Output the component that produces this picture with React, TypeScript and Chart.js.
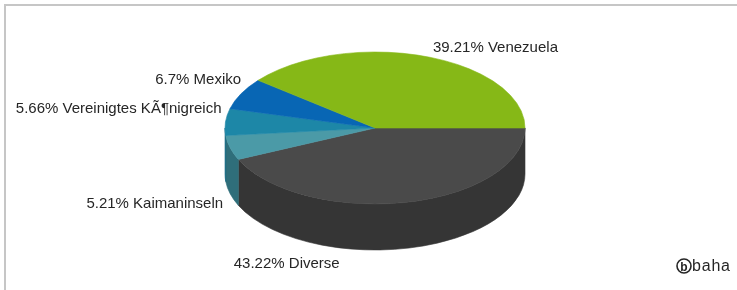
import React, { useEffect, useRef } from "react";
import { Chart, registerables } from "chart.js";

Chart.register(...registerables);

// Data, in the order the slices are drawn (clockwise from 3 o'clock)
const categories = ["Diverse", "Kaimaninseln", "Vereinigtes KÃ¶nigreich", "Mexiko", "Venezuela"];
const shares = [43.22, 5.21, 5.66, 6.7, 39.21];
const topColors = ["#4a4a4a", "#4b9aa7", "#1d87a7", "#0866b4", "#86b817"];
const sideColors = ["#353535", "#2f6e7a", "#176a83", "#054e8c", "#668f10"];

const TILT = 76 / 150;
const DEPTH = 46 / 150;
// label nudges relative to computed anchor: [dx, dy, align]
const LABEL_NUDGE: [number, number, CanvasTextAlign][] = [
  [-120, 20, "center"],
  [-7, 14, "right"],
  [-4, -9, "right"],
  [0, -10, "right"],
  [8, -4, "left"],
];

const pie3d = {
  id: "pie3d",
  beforeDraw(chart: any) {
    const ctx = chart.ctx as CanvasRenderingContext2D;
    ctx.save();
    ctx.fillStyle = "#ffffff";
    ctx.fillRect(0, 0, chart.width, chart.height);
    ctx.strokeStyle = "#c6c6c6";
    ctx.lineWidth = 2;
    ctx.beginPath();
    ctx.moveTo(5, chart.height);
    ctx.lineTo(5, 5);
    ctx.lineTo(chart.width, 5);
    ctx.stroke();
    ctx.restore();
  },
  beforeDatasetsDraw(chart: any) {
    const ctx = chart.ctx as CanvasRenderingContext2D;
    const meta = chart.getDatasetMeta(0);
    const arcs = meta.data;
    ctx.save();
    // side walls (front half only)
    arcs.forEach((arc: any, i: number) => {
      const { x, y, startAngle, endAngle, outerRadius } = arc.getProps(
        ["x", "y", "startAngle", "endAngle", "outerRadius"],
        true
      );
      const rx = outerRadius;
      const ry = outerRadius * TILT;
      const h = outerRadius * DEPTH;
      const ranges: [number, number][] = [
        [0, Math.PI],
        [2 * Math.PI, 3 * Math.PI],
      ];
      ranges.forEach(([a, b]) => {
        const s = Math.max(startAngle, a);
        const e = Math.min(endAngle, b);
        if (e <= s) return;
        ctx.beginPath();
        ctx.ellipse(x, y, rx, ry, 0, s, e, false);
        ctx.ellipse(x, y + h, rx, ry, 0, e, s, true);
        ctx.closePath();
        ctx.fillStyle = sideColors[i];
        ctx.fill();
        ctx.strokeStyle = sideColors[i];
        ctx.lineWidth = 0.6;
        ctx.stroke();
      });
    });
    // top faces
    arcs.forEach((arc: any, i: number) => {
      const { x, y, startAngle, endAngle, outerRadius } = arc.getProps(
        ["x", "y", "startAngle", "endAngle", "outerRadius"],
        true
      );
      const rx = outerRadius;
      const ry = outerRadius * TILT;
      ctx.beginPath();
      ctx.moveTo(x, y);
      ctx.ellipse(x, y, rx, ry, 0, startAngle, endAngle, false);
      ctx.closePath();
      ctx.fillStyle = topColors[i];
      ctx.fill();
      ctx.strokeStyle = topColors[i];
      ctx.lineWidth = 0.6;
      ctx.stroke();
    });
    ctx.restore();
    return false;
  },
  afterDraw(chart: any) {
    const ctx = chart.ctx as CanvasRenderingContext2D;
    const meta = chart.getDatasetMeta(0);
    ctx.save();
    ctx.font = "15px 'Liberation Sans', Arial, sans-serif";
    ctx.fillStyle = "#262626";
    ctx.textBaseline = "alphabetic";
    meta.data.forEach((arc: any, i: number) => {
      const { x, y, startAngle, endAngle, outerRadius } = arc.getProps(
        ["x", "y", "startAngle", "endAngle", "outerRadius"],
        true
      );
      const m = (startAngle + endAngle) / 2;
      const rx = outerRadius;
      const ry = outerRadius * TILT;
      let ax = x + rx * Math.cos(m);
      let ay = y + ry * Math.sin(m);
      if (Math.sin(m) > 0) ay += outerRadius * DEPTH;
      const [dx, dy, align] = LABEL_NUDGE[i];
      ctx.textAlign = align;
      ctx.fillText(`${shares[i]}% ${categories[i]}`, ax + dx, ay + dy);
    });
    // baha logo
    ctx.strokeStyle = "#262626";
    ctx.lineWidth = 1.6;
    ctx.beginPath();
    ctx.arc(684, 266, 7, 0, Math.PI * 2);
    ctx.stroke();
    ctx.font = "bold 12px 'Liberation Sans', Arial, sans-serif";
    ctx.textAlign = "center";
    ctx.fillText("b", 684, 270.5);
    ctx.font = "16px 'Liberation Sans', Arial, sans-serif";
    ctx.textAlign = "left";
    (ctx as any).letterSpacing = "0.8px";
    ctx.fillText("baha", 692, 271);
    ctx.restore();
  },
};

export default function App() {
  const ref = useRef<HTMLCanvasElement>(null);
  useEffect(() => {
    if (!ref.current) return;
    const chart = new Chart(ref.current, {
      type: "pie",
      data: {
        labels: categories,
        datasets: [
          {
            data: shares,
            backgroundColor: topColors,
            borderWidth: 0,
          },
        ],
      },
      options: {
        animation: false,
        responsive: false,
        rotation: 90,
        radius: 150,
        layout: { padding: { left: 225, right: 212, top: 0, bottom: 34 } },
        plugins: {
          legend: { display: false },
          tooltip: { enabled: false },
        },
      },
      plugins: [pie3d],
    });
    return () => chart.destroy();
  }, []);
  return (
    <div style={{ position: "absolute", left: 0, top: 0, width: 737, height: 290, background: "#fff" }}>
      <canvas ref={ref} width={737} height={290} style={{ display: "block" }} />
    </div>
  );
}
